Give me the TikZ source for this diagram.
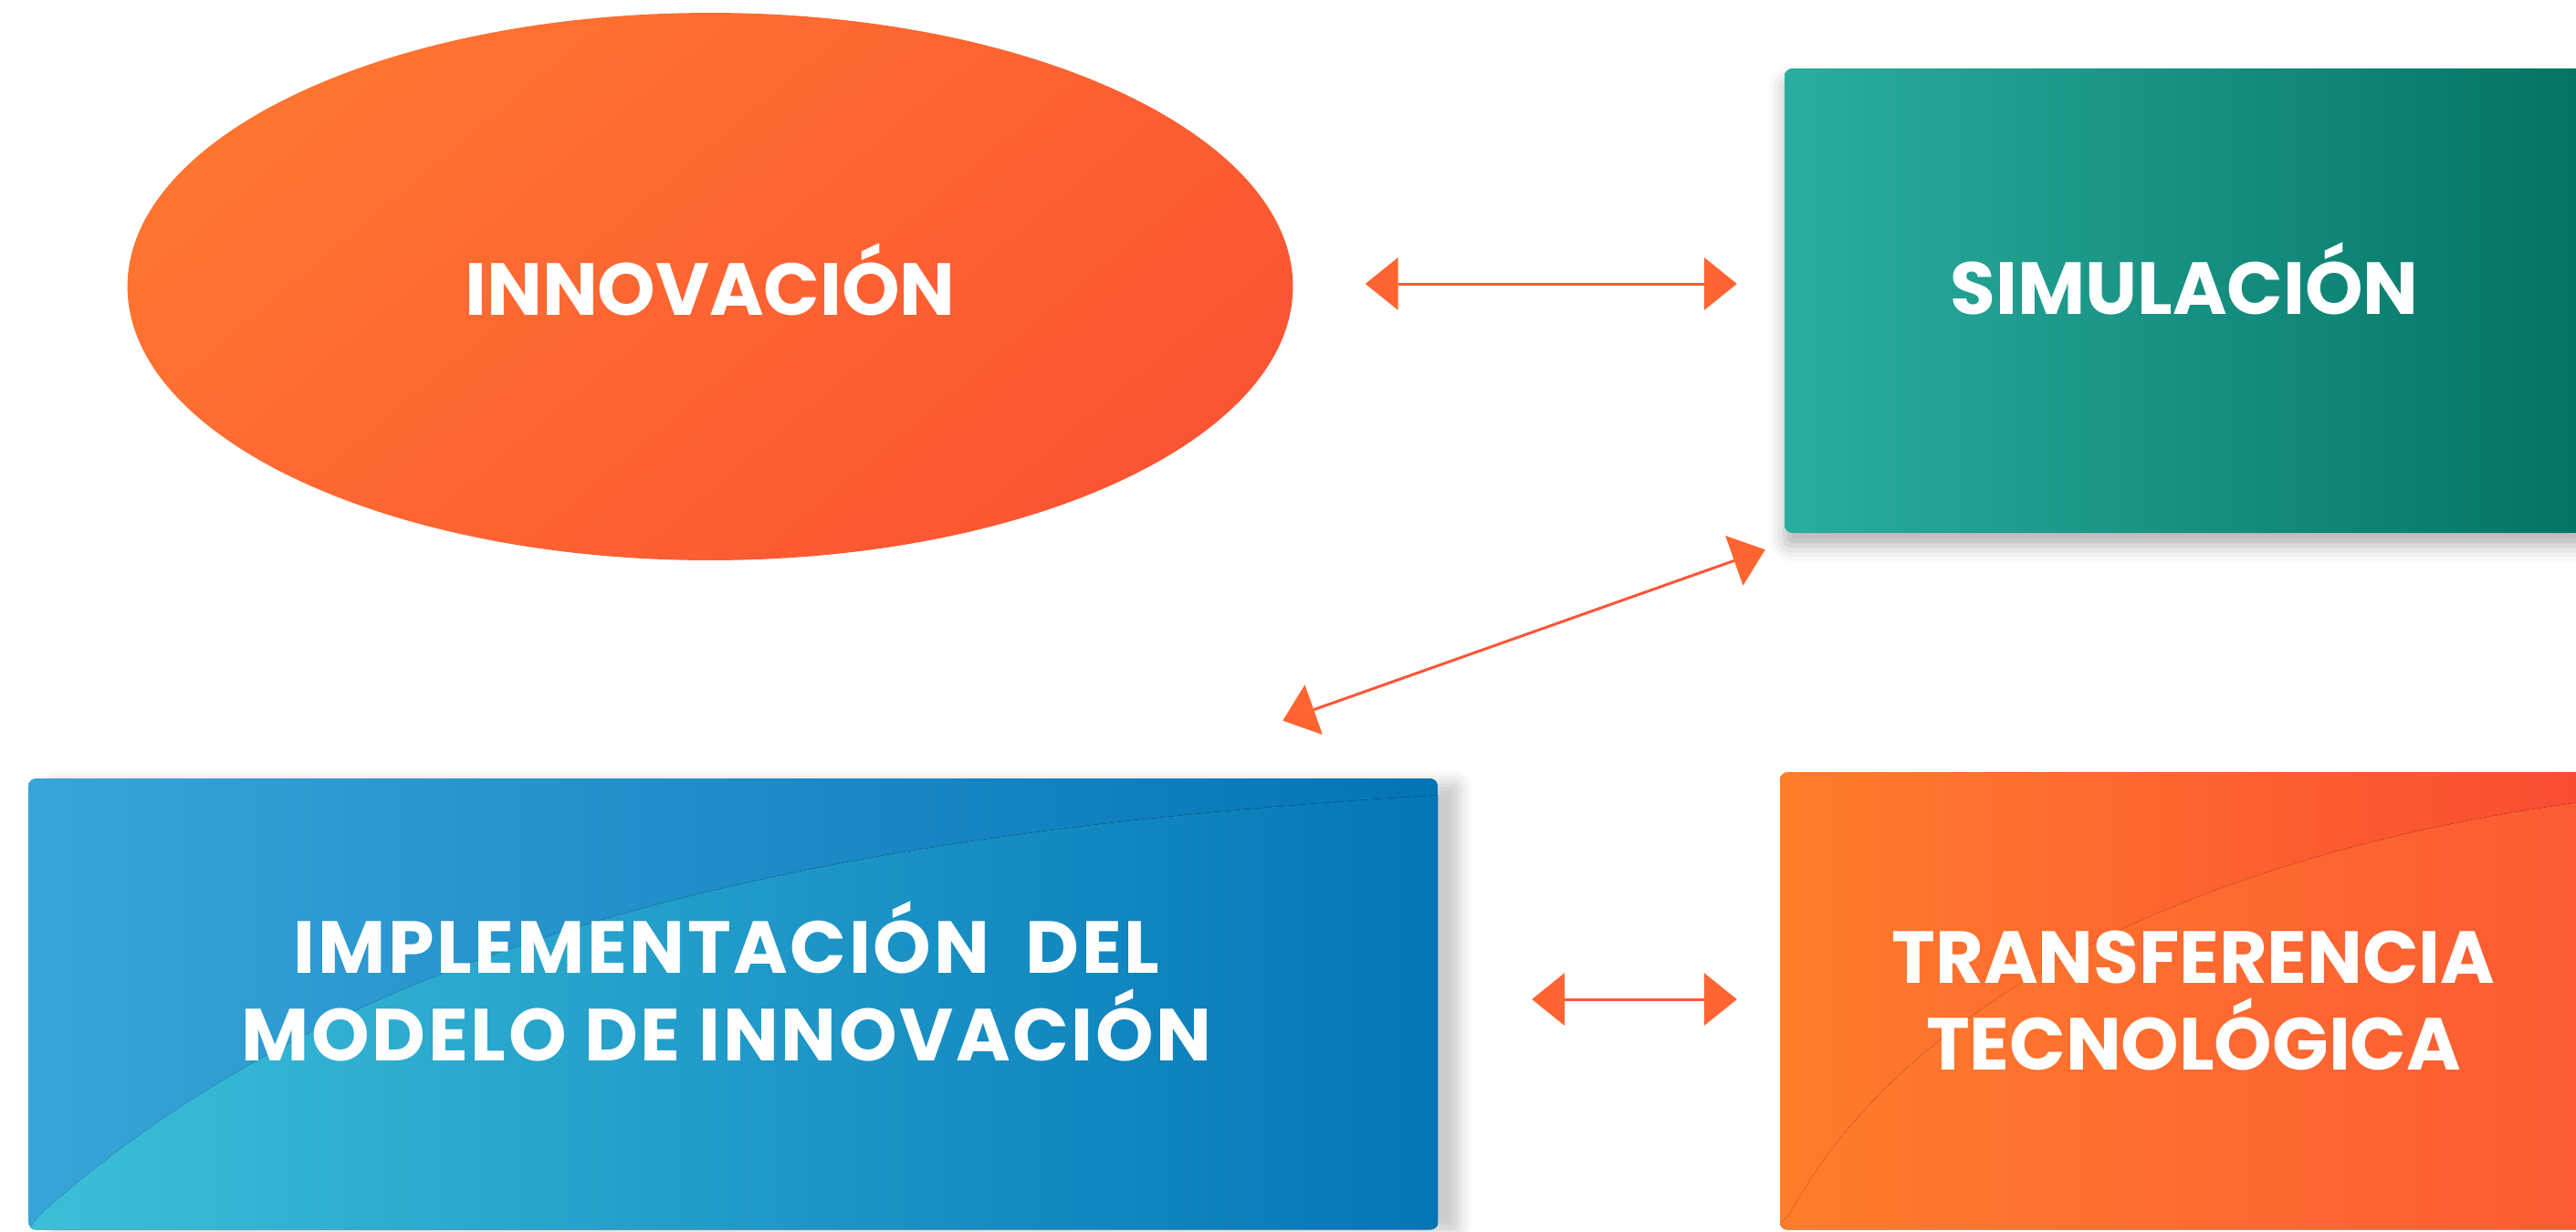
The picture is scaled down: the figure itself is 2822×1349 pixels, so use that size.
\documentclass[tikz,border=0pt]{standalone}
\usepackage{fontspec}
\setmainfont{Poppins}
\usepackage{xcolor}
\usepackage{tikz}
\usetikzlibrary{arrows.meta, positioning}
\usetikzlibrary{shapes.geometric}
\usetikzlibrary{shadows.blur}
\definecolor{innovlight}{HTML}{FF7430}
\definecolor{innovdark}{HTML}{FB5533}
\definecolor{simullight}{HTML}{2BAD9F}
\definecolor{simuldark}{HTML}{037464}
\definecolor{impllight}{HTML}{38A5D8}
\definecolor{impldark}{HTML}{0474B7}
\definecolor{implswoosh}{HTML}{3CC0D9}
\definecolor{transflight}{HTML}{FF7D2B}
\definecolor{transfdark}{HTML}{FA4A33}
\definecolor{transfswoosh}{HTML}{FC5834}
\definecolor{linkred}{HTML}{FF5538}
\definecolor{tipfill}{HTML}{FF6431}

\begin{document}
\begin{tikzpicture}[x=0.02cm, y=-0.02cm,
        every node/.style={text=white,
        inner sep=0pt,
        align=center,
        font=\bfseries\fontsize{46}{54.5}\selectfont},
        stage/.style={rectangle, rounded corners=0.16cm},
        link/.style={<->, draw=linkred, line width=0.06cm},
        >={Triangle[length=0.72cm, width=1.16cm, fill=tipfill, line width=0pt]}]
        \useasboundingbox (0,0) rectangle (2822,1349);
        \clip (0,0) rectangle (2822,1349);
        % top row
        \node[ellipse, minimum width=25.54cm, minimum height=12cm,
            left color=innovlight, right color=innovdark, shading angle=40,
            text height=36pt, text depth=0pt] (innov) at (778,314) {INNOVACIÓN};
        \node[stage, minimum width=17.52cm, minimum height=10.18cm,
            left color=simullight, right color=simuldark,
            blur shadow={shadow xshift=0pt, shadow yshift=-8pt, shadow blur radius=10pt, shadow opacity=30},
            text height=32pt, text depth=14.6pt] (simul) at (2393,329.5) {SIMULACIÓN};
        % bottom row
        \node[stage, minimum width=30.88cm, minimum height=9.88cm,
            left color=impllight, right color=impldark,
            blur shadow={shadow xshift=14pt, shadow yshift=-2pt, shadow blur radius=8pt, shadow opacity=20}] (impl) at (803,1100) {};
        \node[stage, minimum width=18.12cm, minimum height=10.02cm,
            left color=transflight, right color=transfdark] (transf) at (2403,1096.5) {};
        % lighter swooshes inside the bottom boxes
        \begin{scope}
            \clip[rounded corners=0.16cm] (impl.north west) rectangle (impl.south east);
            \fill[left color=implswoosh, right color=impldark]
                (20,1360) -- (45,1330) .. controls (380,1030) and (880,910) .. (1600,870)
                -- (1600,1360) -- cycle;
        \end{scope}
        \begin{scope}
            \clip[rounded corners=0.16cm] (transf.north west) rectangle (transf.south east);
            \fill[left color=transflight, right color=transfswoosh]
                (1930,1360) -- (1961,1330) .. controls (2090,1090) and (2430,920) .. (2900,870)
                -- (2900,1360) -- cycle;
        \end{scope}
        \node[font=\bfseries\fontsize{46}{54.5}\selectfont\addfontfeature{LetterSpace=3.4}]
            (impl-text) at (796,1075) {IMPLEMENTACIÓN\ \ DEL\\MODELO DE INNOVACIÓN};
        \node (transf-text) at (2403,1096.5) {TRANSFERENCIA\\TECNOLÓGICA};
        % links
        \draw[link, shorten <=1.58cm, shorten >=1.04cm] ([shift={(0,-3)}]innov.east) -- ([shift={(0,-3)}]innov.east -| simul.west);
        \draw[link] ([shift={(-170,-63)}]impl.north east) -- ([shift={(-21,18)}]simul.south west);
        \draw[link, shorten <=2.06cm, shorten >=0.94cm] ([shift={(0,-5)}]impl.east) -- ([shift={(0,-5)}]impl.east -| transf.west);
    \end{tikzpicture}
\end{document}
